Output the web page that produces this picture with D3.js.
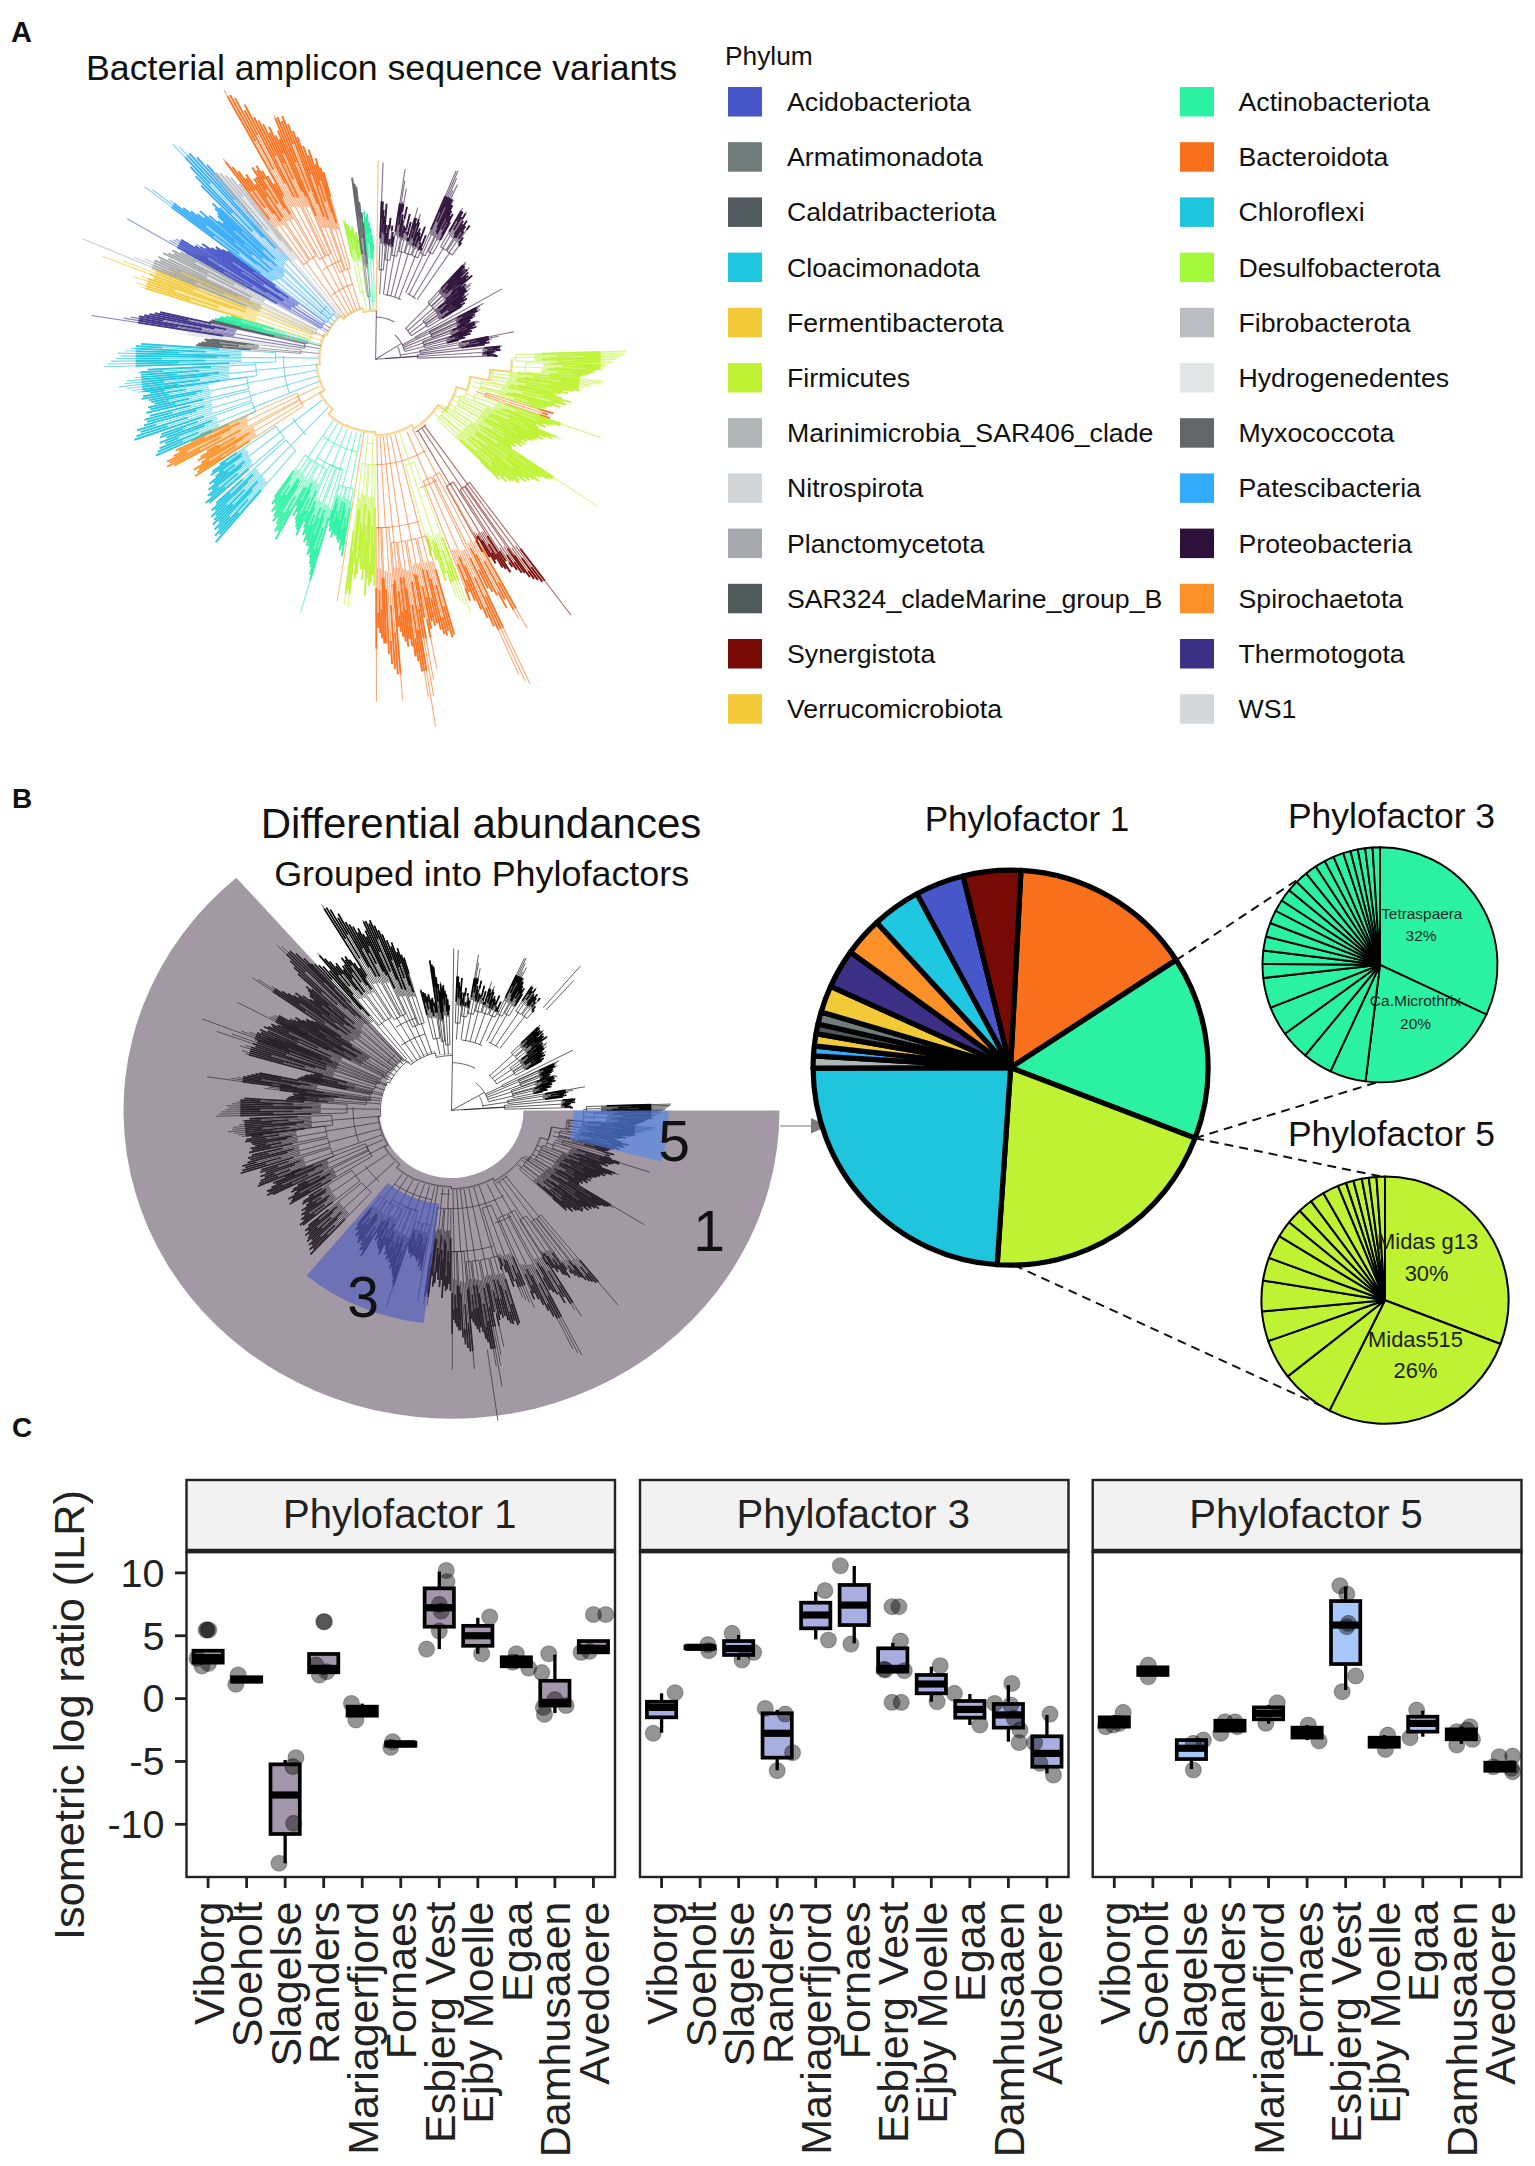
<!DOCTYPE html>
<html><head><meta charset="utf-8">
<script src="https://cdn.jsdelivr.net/npm/d3@7/dist/d3.min.js"></script>
<style>html,body{margin:0;padding:0;background:#fff}svg{display:block}text{font-family:"Liberation Sans",Arial,sans-serif;fill:#111}</style>
</head><body><svg id="c" width="1535" height="2166" viewBox="0 0 1535 2166"></svg>
<script>
// ---------- legend ----------
const phyla=["Acidobacteriota","Armatimonadota","Caldatribacteriota","Cloacimonadota","Fermentibacterota","Firmicutes","Marinimicrobia_SAR406_clade","Nitrospirota","Planctomycetota","SAR324_cladeMarine_group_B","Synergistota","Verrucomicrobiota","Actinobacteriota","Bacteroidota","Chloroflexi","Desulfobacterota","Fibrobacterota","Hydrogenedentes","Myxococcota","Patescibacteria","Proteobacteria","Spirochaetota","Thermotogota","WS1"];
const phylaColors=["#4756c8","#717c7c","#515a5c","#1fc8e0","#f2c936","#bef233","#b0b6b8","#d3d6d9","#a6a9ad","#50595a","#770a04","#f2c936","#2bf2a3","#f9701c","#1fc5dd","#a3f93a","#babec2","#e3e6e6","#636669","#33aafb","#2e1239","#fb9128","#3c2f86","#d4d8db"];
// ---------- tree: [phylum, angle from, angle to, parent radius, base radius, dense from, dense to, tip radii] ----------
const treeGroups=[
[20,2,5.5,62,85,105,150,[187,150,142,136,148,128,120]],
[20,5.5,9,62,95,105,142,[128,135,115,128,122,118]],
[20,9,12.5,62,100,115,150,[183,172,152,165,140,135,148]],
[20,12.5,16,62,105,115,150,[130,128,142,125,135,120]],
[20,16,20,62,105,110,140,[150,140,135,145,137,128,132]],
[20,20,24,62,105,110,140,[128,125,135,120,118,128,115]],
[20,24,27,70,110,125,170,[196,197,190,178,185,170]],
[20,27,30,70,115,125,165,[170,165,160,155,158,150]],
[20,31,34.5,70,125,135,165,[168,165,160,167,158,155]],
[20,34.5,38,70,125,135,165,[160,155,150,158,145,140]],
[20,44,48,42,75,85,125,[129,128,126,120,124,120,128,115]],
[20,48,52,42,75,85,125,[124,120,122,118,125,110,115]],
[20,52,56,42,60,70,112,[115,120,118,112,116,108,105]],
[20,56,60,42,60,70,108,[112,105,108,100,104,100]],
[20,62,64,30,45,0,0,[143,120]],
[20,64,67,30,60,85,112,[116,114,110,115,106,108]],
[20,67,70,30,60,85,105,[104,108,100,102,100,95]],
[20,70,74,30,50,75,105,[108,110,105,102,106,98]],
[20,74,78,30,50,70,100,[100,95,98,90,92,85]],
[20,79,83,25,45,80,115,[141,125,118,112,115,110]],
[20,84,89,10,42,105,125,[127,125,122,126,120,118,115,120,122]],
[5,88,91,136,140,150,225,[251,250,248,245,243,240,235,238]],
[5,91,95,136,150,160,225,[232,230,225,228,220,218,215,212,208,205]],
[5,95,98,115,118,125,205,[230,228,225,218,215,210,205]],
[5,98,101,115,118,125,205,[208,200,190,195,188,180,184]],
[13,106,108,105,115,165,185,[185,180,183]],
[5,101,104,100,108,120,200,[190,200,192,195,185,190]],
[5,104,106,100,108,120,185,[182,178,176,172]],
[5,108,112,96,105,120,195,[237,195,188,185,178,182,172,175]],
[5,112,115,85,92,110,195,[200,190,192,185,180,184,178]],
[5,115,118,85,92,110,180,[178,175,175,172,168,170,165]],
[5,118,122,85,92,110,175,[170,165,168,160,163,158,160]],
[5,122,125,78,84,100,210,[262,215,208,205,200,198,195]],
[5,125,129,78,84,100,200,[200,195,190,192,185,190,180,184]],
[5,129,133,78,84,100,190,[185,180,178,170,175,165,168]],
[10,141,143.5,80,150,220,270,[312,269,265,262,258]],
[10,143.5,146,80,150,215,255,[252,250,245,240,232]],
[10,146,150,80,140,190,245,[243,238,235,225,228,220,200,212]],
[13,149,153,76,125,190,275,[297,285,262,270,255,250,245]],
[13,153,158,76,125,190,285,[345,340,332,280,270,260,250,240,248]],
[5,158,164,74,105,170,225,[259,250,245,240,215,222,200,190,195]],
[13,163,166.5,74,175,190,280,[273,275,268,272,270,265,258]],
[13,166.5,170,74,175,190,270,[260,255,262,300,250,310,325]],
[13,170,173,74,175,190,300,[354,325,300,290,285,275,268]],
[13,173,175,74,175,190,280,[275,270,265,260,255]],
[13,175,178,74,160,190,300,[325,300,295,290,280,270]],
[13,178,180,74,160,190,275,[270,265,260,255,325]],
[5,180,184,72,100,120,230,[215,205,212,215,208,225,200,210]],
[5,184,188,72,100,120,225,[200,190,205,210,195,237,220,235]],
[21,189,190,70,78,0,0,[233]],
[12,190,193.5,72,125,130,195,[190,180,185,175,178,175,172]],
[12,193.5,197,72,125,130,180,[172,170,175,168,170,165,160]],
[12,197,201,72,110,140,220,[252,215,208,205,200,195,198,190]],
[12,201,205,72,110,140,195,[190,185,188,180,182,175,170]],
[12,205,210,72,115,125,190,[185,180,178,175,172,165,170,160]],
[12,210,214,72,115,125,200,[198,190,192,185,180,185]],
[12,214,218,72,115,125,185,[180,175,178,170,172,165]],
[14,222,230,66,118,150,240,[236,228,232,225,228,220,226,222,218,222,215,218,210]],
[14,230,238,66,118,150,220,[215,218,210,212,205,208,200,204,195,190,198,195,185]],
[21,238,243,62,85,130,215,[212,208,205,210,200,195,202,198,190]],
[21,243,248,62,85,130,235,[225,232,228,230,222,215,218,200,190]],
[14,247,252,60,130,160,240,[238,235,232,225,230,222,228,226]],
[14,252,257,60,130,160,255,[253,250,245,248,240,236,238,232]],
[14,257,263,60,130,160,240,[235,230,232,225,228,230,237,235,228,232]],
[14,262,268,58,120,135,235,[240,245,250,258,252,250,242,235,238,228]],
[14,268,274,57,100,120,240,[272,268,265,260,255,258,251,245,240,235]],
[18,274,277,57,75,110,180,[180,178,175,170,172,165]],
[17,277,279,57,70,90,190,[210,205,200,195]],
[22,278,282,57,72,130,240,[287,255,248,240,235,230,225,220]],
[2,282,284,56,70,85,170,[170,168,165,160]],
[12,283,286,56,70,85,165,[165,162,160,155,150]],
[4,286,290,55,68,110,240,[245,250,240,255,248,235,290]],
[4,290,294,55,68,110,235,[270,240,230,220,225,215,200]],
[8,291,295,55,65,110,240,[314,260,250,240,235,238,228]],
[8,295,300,55,65,110,235,[235,230,225,228,220,215,218,205,200]],
[0,298,301,54,62,80,225,[282,235,232,230,225,210]],
[0,301,305,54,62,80,205,[210,200,205,195,190,192,185,180]],
[19,305,309,54,60,110,250,[283,275,255,240,232,225,218,225]],
[19,309,313,54,60,110,220,[215,205,200,208,210,215,220,212]],
[19,313,318,54,60,110,270,[240,250,260,288,282,270,262,250]],
[16,317,321,52,56,110,240,[240,238,235,230,225,215]],
[13,321,325,50,115,150,240,[244,232,225,215,218,205,210]],
[13,325,329,50,115,150,220,[210,220,215,219,212,205,195]],
[13,329,333,50,110,150,290,[297,290,285,270,275,260,255]],
[13,333,336,50,110,150,250,[250,240,245,235,230,238]],
[13,336,340,50,90,120,250,[253,250,245,249,240,232,225]],
[13,340,344,50,90,120,215,[215,205,210,195,200,190,185]],
[15,346,352,48,65,90,135,[137,132,130,125,128,120,122,115]],
[18,352,355,47,60,80,175,[174,168,165,150,140,130]],
[12,355,359,47,55,90,140,[143,135,138,130,125,118,110]],
[21,360.5,361,46,47,0,0,[189]]
];
// nested bracket arcs: [phylum, angle from, angle to, radius]
const treeBrackets=[[20,8,24,62],[20,27,35,70],[20,1,28,40],[20,45,58,42],[20,40,75,30],[20,62,84,25],[20,84,89,10],
[5,100,112,96],[13,150,180,100],[13,164,180,160],[10,141,150,80],[13,152,160,130],[12,192,216,90],[12,198,212,110],[14,224,236,100],[14,250,272,92],[21,240,246,85],[13,324,342,75],[13,328,340,100],[19,308,316,70],[5,181,187,80]];
// spine of the tree: [angle from, angle to, radius]
const treeRing=[[361,345,46],[345,320,50],[320,295,54],[295,265,56],[265,240,59],[240,222,64],[222,205,70],[205,180,69],[180,150,72],[150,125,76],[125,108,85],[108,100,96],[100,95,115],[95,90,136]];
// ---------- wedges of panel B ----------
const wedgeAngles=[[90,319],[187,219.5],[90,104.5]];
const wedgeRadii=[[72,328],[100,228],[122,217]];
const wedgeLabels=["1","3","5"];
// extra long branches of the tree in panel B: [angle, from radius, to radius]
const bExtra=[[172,300,400],[40,150,226],[41.5,150,205]];
// ---------- pies ----------
const pie1Phyla=[13,12,5,14,6,19,11,9,1,4,22,21,3,0,10];
const pie1Values=[15,15,20.3,23.9,1,.8,1,.8,1,2.2,3.2,3.2,4,4,4.7];
const pie3Values=[31.6,19.8,4.9,4,4,4,4.1,1.9,1.8,1.9,1.9,1.8,1.6,1.7,1.5,1.7,1.6,1.4,1.3,1.4,1,1,1,1,1];
const pie5Values=[30.7,26.6,7,5.2,3.9,4,3,3.1,2.2,2,1.9,1.9,2.1,1.1,1,1.1,.9,1,1.1];
// ---------- box plots ----------
const sites=["Viborg","Soeholt","Slagelse","Randers","Mariagerfjord","Fornaes","Esbjerg Vest","Ejby Moelle","Egaa","Damhusaaen","Avedoere"];
const yTicks=[10,5,0,-5,-10];
// rows: [q1, median, q3, lower whisker, upper whisker]
const pf1Boxes=[[2.86,3.26,3.81,2.86,3.81],[1.35,1.5,1.7,1.35,1.7],[-10.77,-7.67,-5.23,-13.1,-4.88],[2.09,2.4,3.55,1.9,3.55],[-1.36,-1,-.64,-1.36,-.4],[-3.75,-3.6,-3.5,-3.75,-3.5],[5.72,7.23,8.77,3.94,10.1],[4.2,5,5.79,3.57,6.43],[2.57,2.93,3.29,2.4,3.5],[-.55,-.3,1.42,-1.15,3.5],[3.68,4,4.58,3.68,4.58]];
const pf3Boxes=[[-1.49,-.7,-.25,-2.71,.42],[4,4.08,4.15,4,4.15],[3.47,3.98,4.58,3.07,5.06],[-4.7,-2.76,-1.17,-5.7,-.9],[5.59,6.65,7.63,4.71,8.5],[5.85,7.44,9.04,4.4,10.55],[2.14,2.4,4,2.14,4.45],[.42,1.16,1.88,-.25,2.54],[-1.52,-.86,-.19,-2.1,.36],[-2.31,-1.3,-.43,-3.43,1.08],[-5.42,-4.36,-3,-5.95,-1.3]];
const pf5Boxes=[[-2.23,-1.84,-1.49,-2.3,-1.3],[1.88,2.19,2.49,1.88,2.49],[-4.81,-3.95,-3.3,-5.6,-3.3],[-2.55,-2.15,-1.76,-2.55,-1.76],[-1.65,-1.17,-.7,-2,-.5],[-3.1,-2.7,-2.31,-3.3,-2.1],[2.75,5.85,7.76,.68,8.9],[-3.83,-3.48,-3.11,-4,-2.9],[-2.63,-1.97,-1.44,-3.03,-.96],[-3.24,-2.84,-2.45,-3.6,-2.23],[-5.74,-5.42,-5.1,-5.74,-5.1]];
// rows: [site, horizontal offset in site steps, value]
const pf1Points=[[0,-.02,5.46],[0,-.05,5.46],[0,.02,5.46],[0,-.16,2.59],[0,-.29,3.2],[0,.01,2.8],[1,-.22,1.88],[1,-.28,1.14],[2,.28,-4.7],[2,.2,-5.41],[2,.22,-9.92],[2,-.16,-13.1],[3,0,6.12],[3,.02,6.12],[3,-.2,2.67],[3,-.11,1.88],[3,.08,2.14],[4,-.28,-.38],[4,-.165,-1.7],[5,-.21,-3.43],[5,-.26,-3.88],[6,.18,10.2],[6,.2,9.3],[6,-.33,3.94],[6,0,5.38],[6,0,7.5],[6,.05,6.96],[7,.31,6.5],[7,.1,3.57],[8,0,3.57],[8,.32,2.43],[8,-.1,2.9],[9,-.16,3.57],[9,-.34,2.07],[9,-.27,-1.26],[9,-.3,-.7],[9,0,-.08],[9,.29,-.55],[10,0,6.69],[10,.32,6.69],[10,-.32,3.68],[10,-.1,3.76]];
const pf3Points=[[0,.35,.47],[0,-.217,-2.76],[1,.2,4.3],[1,.225,3.81],[2,-.17,5.19],[2,.39,3.68],[2,.087,3.07],[3,-.31,-.78],[3,.21,-1.23],[3,.4,-4.3],[3,0,-5.73],[4,.24,8.6],[4,.33,4.66],[5,-.36,10.57],[5,-.087,4.34],[6,-.02,7.31],[6,.16,7.31],[6,.2,4.58],[6,-.19,2.28],[6,-.23,2.33],[6,.3,2.22],[6,-.02,-.3],[6,.22,-.3],[7,.23,2.62],[7,.15,-.25],[8,-.4,.42],[8,.26,-2.1],[9,.09,1.21],[9,-.355,-.38],[9,.06,-.51],[9,.15,-1.57],[9,.3,-2.5],[9,.28,-3.5],[10,.08,-1.23],[10,-.32,-3.51],[10,-.18,-5.15],[10,.17,-6.08]];
const pf5Points=[[0,.23,-1.09],[0,-.225,-2.23],[0,-.03,-2.1],[0,.13,-1.97],[1,-.12,2.67],[1,-.12,1.74],[2,.05,-3.56],[2,.31,-3.3],[2,.05,-5.68],[3,-.13,-1.84],[3,.13,-1.84],[3,-.24,-2.76],[3,.19,-2.23],[4,.225,-.33],[4,-.07,-1.97],[5,.03,-2.1],[5,.31,-3.37],[6,-.15,8.98],[6,.03,8.32],[6,.07,5.99],[6,.03,5.72],[6,.26,1.8],[6,-.09,.55],[7,.09,-2.9],[7,.03,-4.04],[8,-.16,-.91],[8,-.33,-3.11],[9,.225,-2.23],[9,.14,-2.5],[9,-.12,-2.63],[9,.29,-3.24],[9,-.12,-3.69],[10,-.02,-4.62],[10,.33,-4.57],[10,-.17,-5.42],[10,.3,-5.55],[10,.33,-5.81]];

const svg=d3.select("#c");
const rad=d=>d*Math.PI/180;
function txt(x,y,s,fs,o={}){return svg.append("text").attr("x",x).attr("y",y).attr("font-size",fs).attr("text-anchor",o.anchor||"start").attr("font-weight",o.weight||"normal").style("fill",o.fill||"#111").attr("dy",o.dy||0).text(s);}

// panel letters
txt(11,42,"A",29,{weight:"bold"});txt(12,808,"B",28,{weight:"bold"});txt(12,1437,"C",28,{weight:"bold"});
txt(86,80,"Bacterial amplicon sequence variants",35.7);

// legend
txt(725,64.5,"Phylum",26.3);
const legRow=d3.scalePoint().domain(d3.range(12)).range([87,87+55.2*11]);
phyla.forEach((p,i)=>{const col=i<12?0:1,row=i%12,x=col?1180:728;
 svg.append("rect").attr("x",x).attr("y",legRow(row)).attr("width",34).attr("height",29.5).attr("fill",phylaColors[i]);
 txt(col?1238.5:787,legRow(row)+14.7,p,26.7,{dy:".35em"});
});

// style only: how far along a tuft each branch turns heavy, so tufts read as streaks
const tuftStagger=[.22,.64,.42,.78,.32];
// tree drawing through scales
function drawTree(g,T){
 const pt=(a,r)=>{const R=T.r(r);return [T.cx+R*Math.sin(rad(a)),T.cy-T.sy*R*Math.cos(rad(a))];};
 const line=d3.line();
 const arc=(a0,a1,r)=>{const n=Math.max(2,Math.ceil(Math.abs(a1-a0)/1.5)+1);return d3.range(n).map(i=>pt(a0+(a1-a0)*i/(n-1),r));};
 const col=T.color;
 g.append("path").attr("d",line(treeRing.flatMap(d=>arc(d[0],d[1],d[2])))).attr("fill","none").attr("stroke",T.ring).attr("stroke-width",T.ringW).attr("opacity",T.ringO);
 g.append("path").attr("d",line(treeRing.flatMap(d=>arc(d[0],d[1],d[2]+1.6)))).attr("fill","none").attr("stroke",T.ring).attr("stroke-width",T.ringW*.55).attr("opacity",T.ringO*.6);
 treeBrackets.forEach(b=>g.append("path").attr("d",line(arc(b[1],b[2],b[3]))).attr("fill","none").attr("stroke",col(b[0])).attr("stroke-width",T.thin).attr("opacity",T.thinO));
 [[1,0,1,46],[88,0,86,42],[60,0,60,30]].forEach(s=>g.append("path").attr("d",line([pt(s[0],s[1]),pt(s[2],s[3])])).attr("fill","none").attr("stroke",col(20)).attr("stroke-width",T.thin).attr("opacity",T.thinO));
 treeGroups.forEach(([ph,a0,a1,rp,rb,d0,d1,tips])=>{
  const c=col(ph),w=a1-a0,ang=d3.scalePoint().domain(d3.range(tips.length)).range([a0+.08*w,a1-.08*w]);
  const th=g.append("g").attr("fill","none").attr("stroke",c);
  const mid=(a0+a1)/2,last=tips.length-1;
  const startOf=(d,i)=>d1>0?d0+(Math.min(d1,d)-d0)*tuftStagger[i%5]:rb;
  th.append("path").attr("d",line([pt(mid,rp),pt(mid,rb)])).attr("stroke-width",T.thin).attr("opacity",T.thinO);
  th.append("path").attr("d",line(arc(ang(0),ang(last),rb))).attr("stroke-width",T.thin).attr("opacity",T.thinO);
  th.selectAll("path.t").data(tips).join("path").attr("class","t").attr("d",(d,i)=>{const trunk=i===0||i===last||i===Math.floor(last/2);return line([pt(ang(i),trunk?rb:d0+(Math.min(d1||d,d)-d0)*.12),pt(ang(i),d)]);}).attr("stroke-width",T.thin).attr("opacity",T.thinO);
  if(d1>0)th.selectAll("path.k").data(tips).join("path").attr("class","k").attr("d",(d,i)=>line([pt(ang(i),startOf(d,i)),pt(ang(i),Math.min(d1,d))])).attr("stroke-width",T.thick).attr("opacity",T.thickO);
 });
 (T.extra||[]).forEach(e=>g.append("path").attr("d",line([pt(e[0],e[1]),pt(e[0],e[2])])).attr("fill","none").attr("stroke",col(20)).attr("stroke-width",T.thin).attr("opacity",T.thinO));
}
// Panel A tree
drawTree(svg.append("g"),{cx:375.6,cy:359.2,sy:1.053,r:d3.scaleLinear().domain([0,400]).range([0,400]),color:i=>phylaColors[i],ring:"#f6cf86",ringW:1.8,ringO:.95,thin:1.1,thinO:.6,thick:1.9,thickO:.92});

// Panel B
const bC={cx:451.5,cy:1110.4,sy:.94};
const bTree=svg.append("g");
drawTree(bTree,{cx:bC.cx,cy:bC.cy,sy:bC.sy,r:d3.scaleLinear().domain([0,56,300]).range([0,71,257]),color:()=>"#000",ring:"#222",ringW:1,ringO:.75,thin:.9,thinO:.7,thick:1.7,thickO:.95,extra:bExtra});
const wedgeFill=["#4c3c52","#4a57c0","#4d85f0"],wedgeOp=[.52,.6,.6];
const wArc=d3.arc();
wedgeAngles.forEach((w,i)=>svg.append("path").attr("transform",`translate(${bC.cx},${bC.cy}) scale(1,${bC.sy})`).attr("d",wArc({innerRadius:wedgeRadii[i][0],outerRadius:wedgeRadii[i][1],startAngle:rad(w[0]),endAngle:rad(w[1])})).attr("fill",wedgeFill[i]).attr("opacity",wedgeOp[i]));
txt(709,1251.4,wedgeLabels[0],57,{anchor:"middle"});txt(363,1316.6,wedgeLabels[1],57,{anchor:"middle"});txt(674,1161,wedgeLabels[2],57,{anchor:"middle"});
txt(481,837.8,"Differential abundances",42,{anchor:"middle"});
txt(481.7,886,"Grouped into Phylofactors",35.9,{anchor:"middle"});
// arrow from tree to pie
svg.append("path").attr("d",d3.line()([[780,1126],[812,1126]])).attr("stroke","#a8a8a8").attr("stroke-width",1.6).attr("fill","none");
svg.append("path").attr("d",d3.line()([[811,1118],[828,1126],[811,1133.5]])+"Z").attr("fill","#807b7b");

// pies
const pies={m:{cx:1010.6,cy:1067.7,r:197.5},p3:{cx:1380,cy:964.8,r:117.5},p5:{cx:1385,cy:1300.2,r:123.6}};
function drawPie(P,vals,start,fill,sw){
 const arcs=d3.pie().sort(null).startAngle(rad(start)).endAngle(rad(start+360))(vals);
 const a=d3.arc().innerRadius(0).outerRadius(P.r);
 svg.append("g").attr("transform",`translate(${P.cx},${P.cy})`).selectAll("path").data(arcs).join("path").attr("d",a).attr("fill",(d,i)=>fill(i)).attr("stroke","#000").attr("stroke-width",sw).attr("stroke-linejoin","round");
}
const rim=(P,a)=>[P.cx+P.r*Math.sin(rad(a)),P.cy-P.r*Math.cos(rad(a))];
// dashed connectors: [from pie, angle, to pie, angle]
const connectors=[[pies.m,57,pies.p3,319],[pies.m,110.9,pies.p3,181.4],[pies.m,110.9,pies.p5,358.5],[pies.m,179,pies.p5,211.7]];
drawPie(pies.m,pie1Values,3,i=>phylaColors[pie1Phyla[i]],5.2);
drawPie(pies.p3,pie3Values,0,()=>phylaColors[12],1.9);
drawPie(pies.p5,pie5Values,0,()=>phylaColors[5],2);
connectors.forEach(c=>svg.append("path").attr("d",d3.line()([rim(c[0],c[1]),rim(c[2],c[3])])).attr("stroke","#111").attr("stroke-width",2).attr("stroke-dasharray","9 6").attr("fill","none"));
txt(1027,831.3,"Phylofactor 1",35.1,{anchor:"middle"});
txt(1391.5,827.6,"Phylofactor 3",35.5,{anchor:"middle"});
txt(1391.5,1146,"Phylofactor 5",35.5,{anchor:"middle"});
const dk="#1d2b26";
txt(1421.8,913.4,"Tetraspaera",15.4,{anchor:"middle",dy:".35em",fill:dk});txt(1421,935.7,"32%",15.4,{anchor:"middle",dy:".35em",fill:dk});
txt(1415.5,1001,"Ca.Microthrix",15.5,{anchor:"middle",dy:".35em",fill:dk});txt(1415.5,1023.3,"20%",15.4,{anchor:"middle",dy:".35em",fill:dk});
txt(1427.6,1241.7,"Midas g13",21.9,{anchor:"middle",dy:".35em",fill:"#1c2010"});txt(1426.6,1273.3,"30%",21.9,{anchor:"middle",dy:".35em",fill:"#1c2010"});
txt(1415.5,1339.3,"Midas515",21.9,{anchor:"middle",dy:".35em",fill:"#1c2010"});txt(1415.5,1370,"26%",21.9,{anchor:"middle",dy:".35em",fill:"#1c2010"});

// panel C
const y=d3.scaleLinear().domain([0,10]).range([1698.6,1572.9]);
const panelTop=1552,panelBot=1877,stripTop=1480;
const panels=[{x0:186.5,x1:615,t:"Phylofactor 1",b:pf1Boxes,p:pf1Points,f:"#a597ab"},{x0:640,x1:1068.5,t:"Phylofactor 3",b:pf3Boxes,p:pf3Points,f:"#a9aee0"},{x0:1092.7,x1:1521.5,t:"Phylofactor 5",b:pf5Boxes,p:pf5Points,f:"#a6c8fb"}];
panels.forEach((P,pi)=>{
 const x=d3.scalePoint().domain(sites).range([P.x0,P.x1]).padding(.56),step=x.step(),g=svg.append("g");
 g.append("rect").attr("x",P.x0).attr("y",stripTop).attr("width",P.x1-P.x0).attr("height",panelTop-stripTop).attr("fill","#f2f2f2").attr("stroke","#222").attr("stroke-width",2.4);
 g.append("rect").attr("x",P.x0).attr("y",panelTop).attr("width",P.x1-P.x0).attr("height",panelBot-panelTop).attr("fill","#fff").attr("stroke","#222").attr("stroke-width",2.4);
 g.append("line").attr("x1",P.x0).attr("x2",P.x1).attr("y1",1551).attr("y2",1551).attr("stroke","#222").attr("stroke-width",4.6);
 txt((P.x0+P.x1)/2-1,1528.3,P.t,40,{anchor:"middle",fill:"#222"});
 const bx=step*.76;
 sites.forEach((s,i)=>{
  const [q1,m,q3,lo,hi]=P.b[i],cx=x(s);
  g.append("line").attr("x1",cx).attr("x2",cx).attr("y1",y(lo)).attr("y2",y(hi)).attr("stroke","#000").attr("stroke-width",3.3);
  g.append("rect").attr("x",cx-bx/2).attr("y",y(q3)).attr("width",bx).attr("height",Math.max(0,y(q1)-y(q3))).attr("fill",P.f).attr("stroke","#000").attr("stroke-width",3.7);
  g.append("line").attr("x1",cx-bx/2).attr("x2",cx+bx/2).attr("y1",y(m)).attr("y2",y(m)).attr("stroke","#000").attr("stroke-width",7.2);
  g.append("line").attr("x1",cx).attr("x2",cx).attr("y1",panelBot).attr("y2",panelBot+11).attr("stroke","#222").attr("stroke-width",2.8);
  svg.append("text").attr("transform",`translate(${cx},1901.5) rotate(-90)`).attr("text-anchor","end").attr("dy",".36em").attr("font-size",43).style("fill","#222").text(s);
 });
 g.selectAll("circle").data(P.p).join("circle").attr("cx",d=>x(sites[d[0]])+d[1]*step).attr("cy",d=>y(d[2])).attr("r",8).attr("fill","#000").attr("fill-opacity",.42).attr("stroke","#000").attr("stroke-opacity",.25).attr("stroke-width",1.2);
 if(pi===0){yTicks.forEach(t=>{
  g.append("line").attr("x1",P.x0-11.5).attr("x2",P.x0).attr("y1",y(t)).attr("y2",y(t)).attr("stroke","#222").attr("stroke-width",2.8);
  txt(P.x0-22,y(t),String(t),39.5,{anchor:"end",dy:".35em",fill:"#222"});
 });}
});
svg.append("text").attr("transform","translate(84,1715) rotate(-90)").attr("text-anchor","middle").attr("font-size",43.3).style("fill","#222").text("Isometric log ratio (ILR)");
</script></body></html>
